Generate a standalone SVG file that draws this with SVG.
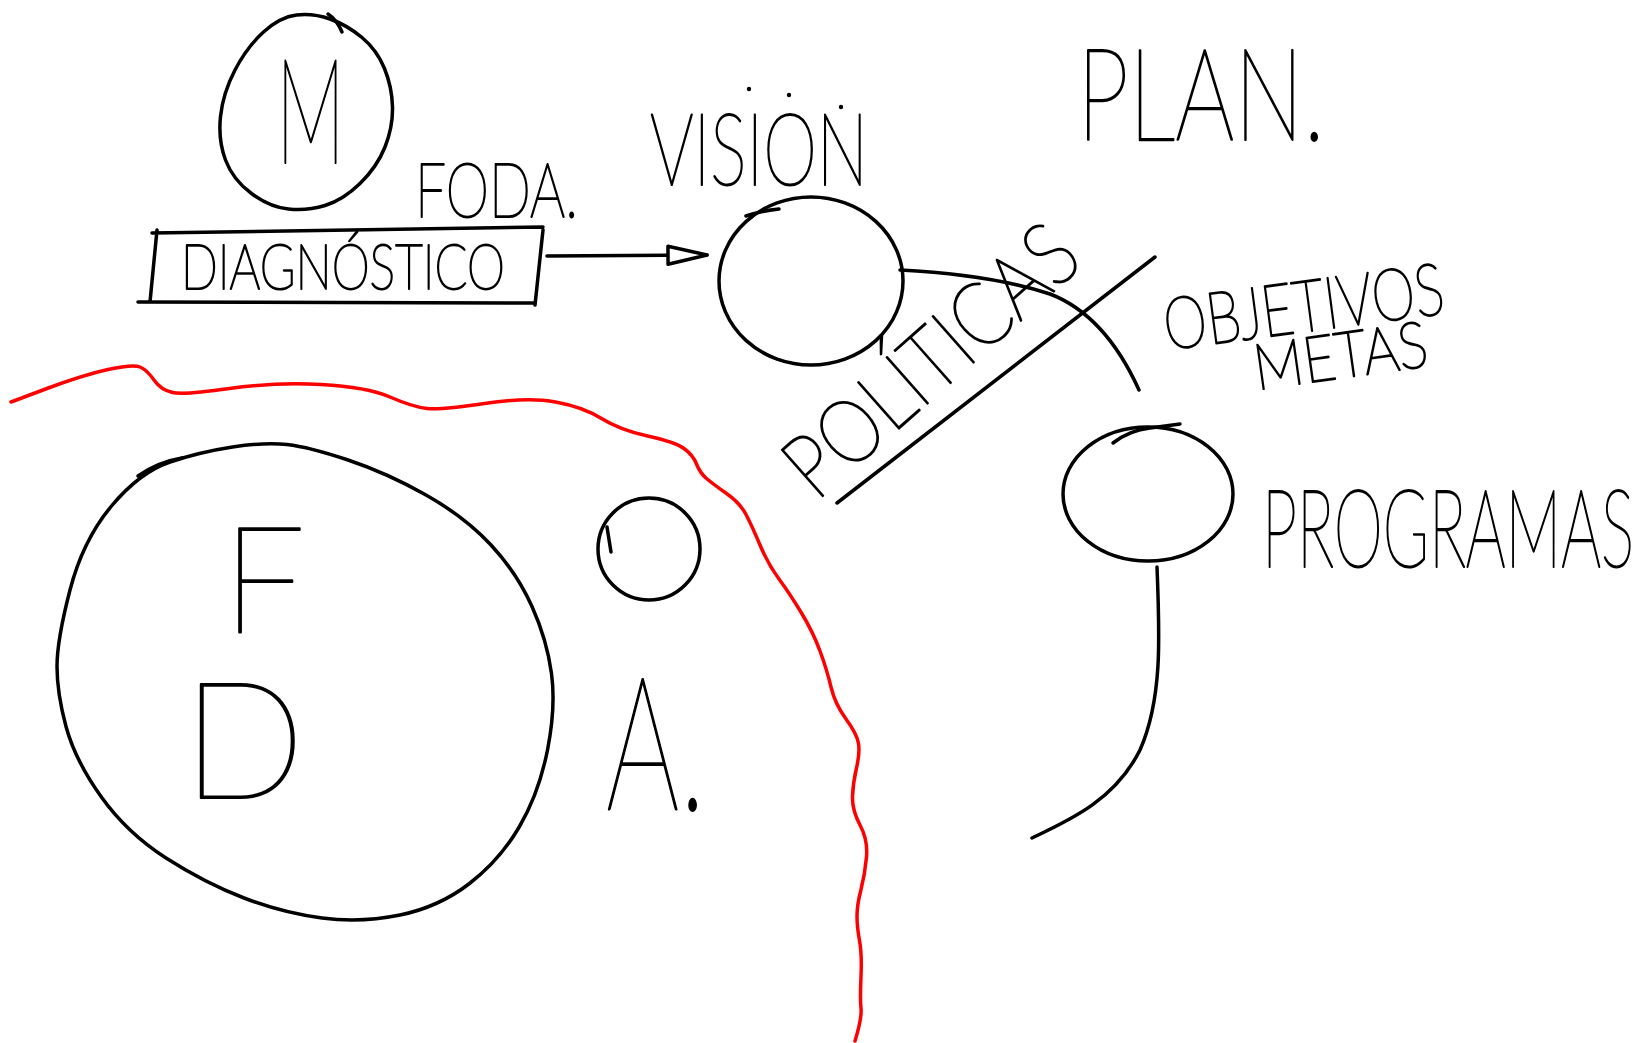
<svg xmlns="http://www.w3.org/2000/svg" width="1649" height="1043" viewBox="0 0 1649 1043">
<style>
.ink{fill:none;stroke:#000;stroke-width:3.5;stroke-linecap:round;stroke-linejoin:round}
.red{fill:none;stroke:#ff0000;stroke-width:3.5;stroke-linecap:round;stroke-linejoin:round}
.t{font-family:"Lato","Roboto","Inter","DejaVu Sans",sans-serif;font-weight:100;fill:#000;stroke:#000;stroke-width:2;stroke-linejoin:round}
</style>
<defs>
<marker id="openhead" markerUnits="userSpaceOnUse" markerWidth="46" markerHeight="26" refX="42" refY="13" orient="auto" viewBox="0 0 46 26">
<path d="M3,4 L42,13 L3,22 Z" fill="#fff" stroke="#000" stroke-width="3.5" stroke-linejoin="round"/>
</marker>
</defs>
<rect width="1649" height="1043" fill="#fff"/>

<g id="divider">
<path class="red" d="M11,402 L47,388.5 Q83,375 108,369.5 Q133,364 140,367 Q147,370 154,380 Q161,390 172.5,392.5 Q184,395 229.5,388.5 Q275,382 321,384.5 Q367,387 390,397 Q413,407 427,408.5 Q441,410 484.5,403.5 Q528,397 555.5,402 Q583,407 601.5,418.5 Q620,430 647.5,436 Q675,442 684,448.5 Q693,455 696.5,464 Q700,473 706.5,478.5 Q713,484 726.5,493.5 Q740,503 746,514.5 Q752,526 760,545 Q768,564 779,579 Q790,594 801.5,613 Q813,632 820,651 Q827,670 831,687 Q835,704 846,719 Q857,734 858.5,743.5 Q860,753 856.5,768 Q853,783 852.5,796.5 Q852,810 860,825 Q868,840 866.5,857 Q865,874 861,889.5 Q857,905 857,916 Q857,927 859.5,940.5 Q862,954 861,976.5 Q860,999 861,1008.5 Q862,1018 855,1041"/>
</g>

<g id="connectors">
<path class="ink" d="M547,256 L707,255" marker-end="url(#openhead)"/>
<path class="ink" d="M900,270 Q993,275 1050,294 Q1105,315 1139,390"/>
<path class="ink" d="M837,503 L1155,257"/>
<path class="ink" d="M1157,567 C1160,640 1162,700 1140,750 C1115,800 1070,820 1032,838"/>
</g>

<g id="node-m">
<path class="ink" d="M296.5,15 Q313,13 330,19 Q347,25 362,37.5 Q377,50 384.5,68.5 Q392,87 392.5,107 Q393,127 385,147 Q377,167 360,183.5 Q343,200 325,205.5 Q307,211 288.5,209 Q270,207 251.5,193.5 Q233,180 225.5,160 Q218,140 220.5,116.5 Q223,93 235,70 Q247,47 263.5,32 Q280,17 296.5,15 Z"/>
<path class="ink" d="M328,14 Q337,20 342,32"/>
<text class="t" x="276" y="163" font-size="147" textLength="69" lengthAdjust="spacingAndGlyphs">M</text>
</g>

<g id="label-foda">
<text class="t" x="415" y="217" font-size="77" textLength="163" lengthAdjust="spacingAndGlyphs">FODA.</text>
</g>

<g id="node-diagnostico">
<path class="ink" d="M152,233 L543,227 M543,230 L535,305 M138,302 L535,303 M157,230 L150,302"/>
<text class="t" x="181" y="289" font-size="61" textLength="324" lengthAdjust="spacingAndGlyphs">DIAGNÓSTICO</text>
</g>

<g id="node-vision">
<ellipse class="ink" cx="811" cy="281" rx="92" ry="84"/>
<path class="ink" d="M746,216 Q760,211 779,209"/>
<text class="t" x="650" y="185" font-size="100" textLength="218" lengthAdjust="spacingAndGlyphs">VISION</text>
<circle cx="749" cy="89" r="2.2" fill="#000"/>
<circle cx="789" cy="95" r="2.2" fill="#000"/>
<circle cx="841" cy="107" r="2.2" fill="#000"/>
</g>

<g id="label-politicas">
<text class="t" transform="translate(816,502) rotate(-41.5)" x="0" y="0" font-size="88" textLength="360" lengthAdjust="spacingAndGlyphs">POLÍTICAS</text>
</g>

<g id="label-plan">
<text class="t" x="1077" y="140" font-size="128" textLength="248" lengthAdjust="spacingAndGlyphs">PLAN.</text>
</g>

<g id="label-objetivos">
<text class="t" transform="translate(1167,350) rotate(-7.5)" x="0" y="0" font-size="72" textLength="282" lengthAdjust="spacingAndGlyphs">OBJETIVOS</text>
<text class="t" transform="translate(1257,390) rotate(-8)" x="0" y="0" font-size="64" textLength="175" lengthAdjust="spacingAndGlyphs">METAS</text>
</g>

<g id="node-programas">
<ellipse class="ink" cx="1148" cy="494" rx="85" ry="67"/>
<path class="ink" d="M1113,443 Q1130,430 1150,428 L1180,424"/>
<text class="t" x="1262" y="567" font-size="109" textLength="372" lengthAdjust="spacingAndGlyphs">PROGRAMAS</text>
</g>

<g id="node-fd">
<path class="ink" d="M232.5,447 Q265,442 287,444.5 Q309,447 348,460 Q387,473 426,495 Q465,517 491,545 Q517,573 532,606.5 Q547,640 551.5,673.5 Q556,707 547.5,750 Q539,793 519.5,826.5 Q500,860 469.5,883.5 Q439,907 400,915 Q361,923 322,918 Q283,913 244,898 Q205,883 166,858 Q127,833 101,796.5 Q75,760 66,726.5 Q57,693 57,666.5 Q57,640 70,590 Q83,540 111.5,506 Q140,472 170,462 Q200,452 232.5,447 Z"/>
<path class="ink" d="M138,476 Q158,462 182,458"/>
<text class="t"><tspan x="222" y="633" font-size="148">F</tspan><tspan x="182" y="798" font-size="162">D</tspan></text>
</g>

<g id="node-o">
<ellipse class="ink" cx="649" cy="549" rx="51" ry="51"/>
<path class="ink" d="M607,527 L611,552"/>
</g>

<g id="label-a">
<text class="t" x="606" y="810" font-size="186" textLength="100" lengthAdjust="spacingAndGlyphs">A.</text>
</g>
</svg>
